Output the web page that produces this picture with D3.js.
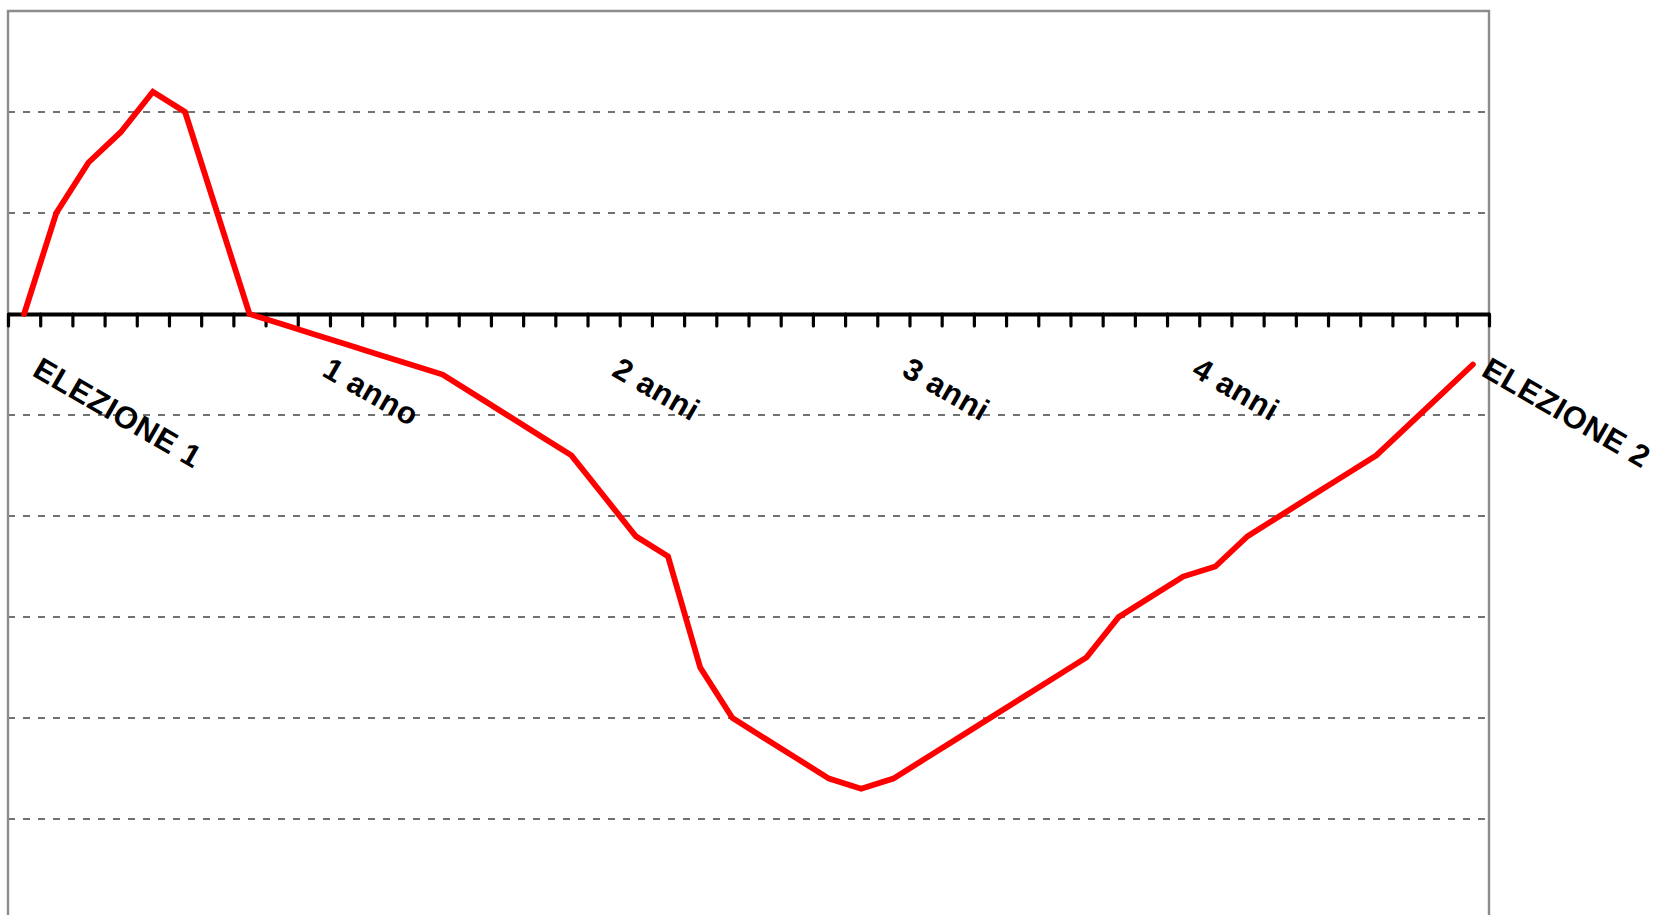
<!DOCTYPE html>
<html>
<head>
<meta charset="utf-8">
<style>
    body { margin: 0; background: #fff; }
    .lbl {
        font-family: "Liberation Sans", Arial, sans-serif;
        font-weight: bold;
        font-size: 31px;
        letter-spacing: 0.7px;
        fill: #000;
    }
</style>
<script src="https://cdn.jsdelivr.net/npm/d3@7"></script>
</head>
<body>
<svg id="chart" width="1657" height="915"></svg>
<script>
    // 46 categories, a label every 9 (one year)
    var labelText = ["ELEZIONE 1", "1 anno", "2 anni", "3 anni", "4 anni", "ELEZIONE 2"];
    var labelIdx = [0, 9, 18, 27, 36, 45];
    var values = [0, 1.0, 1.5, 1.8, 2.2, 2.0, 1.0, 0,
        -0.1, -0.2, -0.3, -0.4, -0.5, -0.6,
        -0.8, -1.0, -1.2, -1.4, -1.8, -2.2, -2.4, -3.5, -4.0,
        -4.2, -4.4, -4.6, -4.7, -4.6,
        -4.4, -4.2, -4.0, -3.8, -3.6, -3.4, -3.0, -2.8, -2.6, -2.5, -2.2,
        -2.0, -1.8, -1.6, -1.4, -1.1, -0.8, -0.5];
    var gridValues = [2, 1, -1, -2, -3, -4, -5, -6];

    var categories = values.map(function (v, i) {
        var k = labelIdx.indexOf(i);
        return k >= 0 ? labelText[k] : "";
    });

    var plotLeft = 8, plotRight = 1489, plotTop = 11, plotBottom = 920;

    var svg = d3.select("#chart");

    // category edges (ticks sit between categories, points at the centres)
    var x = d3.scaleLinear().domain([0, categories.length]).range([plotLeft, plotRight]);
    var y = d3.scaleLinear().domain([-6, 3]).range([plotBottom, plotTop]);

    // dashed gridlines
    svg.append("g")
        .selectAll("line")
        .data(gridValues)
        .enter().append("line")
        .attr("x1", plotLeft).attr("x2", plotRight)
        .attr("y1", function (d) { return y(d); })
        .attr("y2", function (d) { return y(d); })
        .attr("stroke", "#444")
        .attr("stroke-width", 1.5)
        .attr("stroke-dasharray", "7,8");

    // plot frame (no bottom edge in view)
    svg.append("path")
        .attr("d", "M" + plotLeft + "," + plotBottom + "V" + plotTop + "H" + plotRight + "V" + plotBottom)
        .attr("fill", "none")
        .attr("stroke", "#8c8c8c")
        .attr("stroke-width", 2.4);

    // zero axis with ticks
    var axis = svg.append("g")
        .attr("transform", "translate(0," + y(0) + ")")
        .call(d3.axisBottom(x).tickValues(d3.range(categories.length + 1)).tickSize(12).tickSizeOuter(0).tickFormat(""));
    axis.select(".domain").attr("stroke", "#000").attr("stroke-width", 4);
    axis.selectAll(".tick line").attr("stroke", "#000").attr("stroke-width", 3.2).attr("stroke-linecap", "round");

    // labels
    svg.append("g")
        .selectAll("text")
        .data(categories.map(function (c, i) { return { c: c, i: i }; }).filter(function (d) { return d.c; }))
        .enter().append("text")
        .attr("class", "lbl")
        .attr("transform", function (d) {
            return "translate(" + (x(d.i + 0.5) + 7) + ",375) rotate(30)";
        })
        .text(function (d) { return d.c; });

    // the series
    var line = d3.line()
        .x(function (d, i) { return x(i + 0.5); })
        .y(function (d) { return y(d); });

    svg.append("path")
        .datum(values)
        .attr("fill", "none")
        .attr("stroke", "#ff0000")
        .attr("stroke-width", 5.8)
        .attr("stroke-linejoin", "miter")
        .attr("stroke-linecap", "round")
        .attr("d", line);
</script>
</body>
</html>
